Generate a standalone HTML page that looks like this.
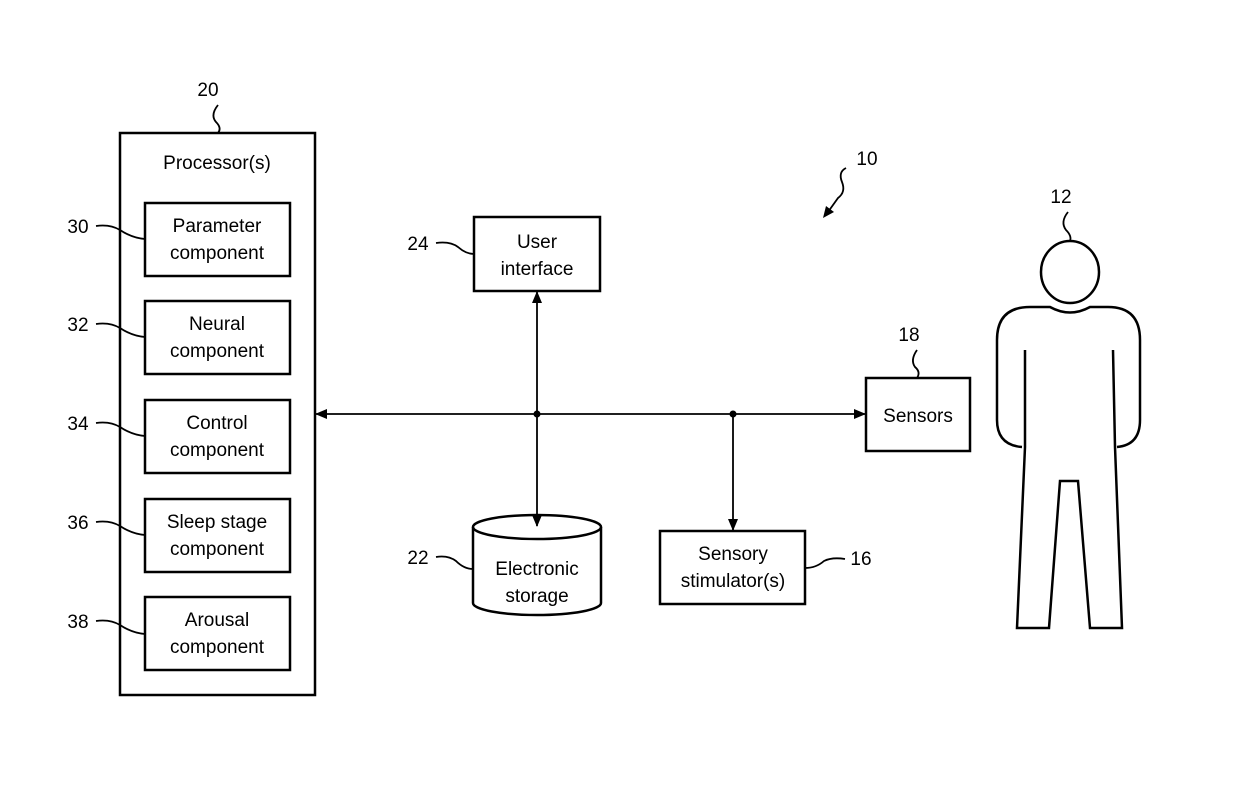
<!DOCTYPE html>
<html><head><style>body{margin:0;background:#fff}text{font-family:"Liberation Sans",sans-serif;font-size:19px;fill:#000}</style></head><body>
<svg width="1239" height="797" viewBox="0 0 1239 797" xmlns="http://www.w3.org/2000/svg">
<defs><marker id="a" markerWidth="12" markerHeight="10" refX="11" refY="5" orient="auto-start-reverse" markerUnits="userSpaceOnUse"><path d="M0,0 L12,5 L0,10 Z" fill="#000"/></marker></defs>
<g fill="none" stroke="#000" stroke-width="2.5">
<rect x="120" y="133" width="195" height="562"/>
<rect x="145" y="203" width="145" height="73"/>
<rect x="145" y="301" width="145" height="73"/>
<rect x="145" y="400" width="145" height="73"/>
<rect x="145" y="499" width="145" height="73"/>
<rect x="145" y="597" width="145" height="73"/>
<rect x="474" y="217" width="126" height="74"/>
<rect x="866" y="378" width="104" height="73"/>
<rect x="660" y="531" width="145" height="73"/>
<path d="M473,527 L473,603 A64,12 0 0 0 601,603 L601,527"/>
<ellipse cx="537" cy="527" rx="64" ry="12"/>
<ellipse cx="1070" cy="272" rx="29" ry="31"/>
<path d="M1022,447 Q997,445 997,420 L997,340 Q997,307 1030,307 L1050,307 Q1070,318 1090,307 L1108,307 Q1140,307 1140,340 L1140,420 Q1140,445 1117,447"/>
<path d="M1025,350 L1025,447 L1017,628 L1049,628 L1060,481 L1078,481 L1090,628 L1122,628 L1115,447 L1113,350"/>
</g>
<g fill="none" stroke="#000" stroke-width="1.8">
<path d="M316,414 L865,414" marker-start="url(#a)" marker-end="url(#a)"/>
<path d="M537,292 L537,526" marker-start="url(#a)" marker-end="url(#a)"/>
<path d="M733,414 L733,530" marker-end="url(#a)"/>
<path d="M218,105 Q210,115 216,122 Q222,128 218,133"/>
<path d="M96,226 Q110,224 120,230 Q132,238 145,239"/>
<path d="M96,324 Q110,322 120,328 Q132,336 145,337"/>
<path d="M96,423 Q110,421 120,427 Q132,435 145,436"/>
<path d="M96,522 Q110,520 120,526 Q132,534 145,535"/>
<path d="M96,621 Q110,619 120,625 Q132,633 145,634"/>
<path d="M436,243 Q450,241 458,247 Q466,254 474,254"/>
<path d="M436,557 Q448,555 456,561 Q464,569 473,569"/>
<path d="M845,559 Q832,557 824,561 Q816,568 805,568"/>
<path d="M917,350 Q910,360 915,367 Q921,372 917,378"/>
<path d="M1068,212 Q1060,222 1066,230 Q1072,236 1070,241"/>
<path d="M846,168 Q838,172 842,182 Q846,192 838,198 L828,212"/>
</g>
<path d="M823,218 L826,206 L834,212 Z" fill="#000"/>
<circle cx="537" cy="414" r="3.5"/><circle cx="733" cy="414" r="3.5"/>
<g text-anchor="middle">
<text x="208" y="96">20</text>
<text x="217" y="169">Processor(s)</text>
<text x="217" y="232">Parameter</text><text x="217" y="259">component</text>
<text x="217" y="330">Neural</text><text x="217" y="357">component</text>
<text x="217" y="429">Control</text><text x="217" y="456">component</text>
<text x="217" y="528">Sleep stage</text><text x="217" y="555">component</text>
<text x="217" y="626">Arousal</text><text x="217" y="653">component</text>
<text x="537" y="248">User</text><text x="537" y="275">interface</text>
<text x="918" y="422">Sensors</text>
<text x="733" y="560">Sensory</text><text x="733" y="587">stimulator(s)</text>
<text x="537" y="575">Electronic</text><text x="537" y="602">storage</text>
<text x="78" y="233">30</text><text x="78" y="331">32</text><text x="78" y="430">34</text><text x="78" y="529">36</text><text x="78" y="628">38</text>
<text x="418" y="250">24</text><text x="418" y="564">22</text><text x="861" y="565">16</text>
<text x="909" y="341">18</text><text x="1061" y="203">12</text><text x="867" y="165">10</text>
</g>
</svg>
</body></html>
